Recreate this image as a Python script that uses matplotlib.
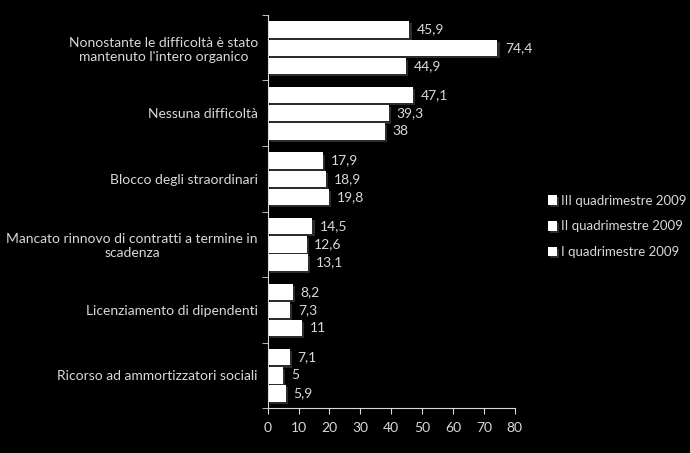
import numpy as np
import matplotlib.pyplot as plt
import matplotlib.patheffects as pe

plt.rcParams['font.family'] = ['Lato', 'DejaVu Sans']

categories = [
    "Nonostante le difficoltà è stato\nmantenuto l'intero organico",
    "Nessuna difficoltà",
    "Blocco degli straordinari",
    "Mancato rinnovo di contratti a termine in\nscadenza",
    "Licenziamento di dipendenti",
    "Ricorso ad ammortizzatori sociali",
]
series_names = ["III quadrimestre 2009", "II quadrimestre 2009", "I quadrimestre 2009"]
q3 = [45.9, 47.1, 17.9, 14.5, 8.2, 7.1]
q2 = [74.4, 39.3, 18.9, 12.6, 7.3, 5.0]
q1 = [44.9, 38.0, 19.8, 13.1, 11.0, 5.9]
series = [q3, q2, q1]

fg = '#d9d9d9'
fig = plt.figure(figsize=(6.9, 4.53), dpi=100, facecolor='black')
ax = fig.add_axes([0.388, 0.099, 0.358, 0.868], facecolor='black')

n = len(categories)
centers = np.arange(n)[::-1].astype(float)
h = 0.25
step = 0.277
offsets = [step, 0, -step]
shadow = [pe.SimplePatchShadow(offset=(1.5, -1.5), shadow_rgbFace='#404040', alpha=0.7), pe.Normal()]

for vals, off, name in zip(series, offsets, series_names):
    bars = ax.barh(centers + off, vals, height=h, color='white', edgecolor='none', label=name)
    for b in bars:
        b.set_path_effects(shadow)
    for y, v in zip(centers + off, vals):
        lab = ('%g' % v).replace('.', ',')
        ax.text(v + 2.5, y, lab, va='center', ha='left', color=fg, fontsize=10)

ax.set_xlim(0, 80)
ax.set_ylim(-0.5, n - 0.5)
ax.set_xticks(np.arange(0, 81, 10))
ax.set_yticks(centers)
ax.set_yticklabels(categories, multialignment='center')
ax.set_yticks(np.arange(-0.5, n, 1), minor=True)
ax.tick_params(axis='y', which='major', length=0, pad=7, colors=fg, labelsize=10)
ax.tick_params(axis='y', which='minor', length=4, color=fg, direction='out')
ax.tick_params(axis='x', length=4, color=fg, labelcolor=fg, labelsize=10, pad=6)
for s in ['top', 'right']:
    ax.spines[s].set_visible(False)
for s in ['left', 'bottom']:
    ax.spines[s].set_color(fg)

leg = fig.legend(loc='center left', bbox_to_anchor=(0.777, 0.5), frameon=False,
                 labelcolor=fg, fontsize=9.5, handlelength=0.7, handleheight=0.7,
                 handletextpad=0.3, labelspacing=1.05)

fig.savefig('out.png', facecolor='black')
